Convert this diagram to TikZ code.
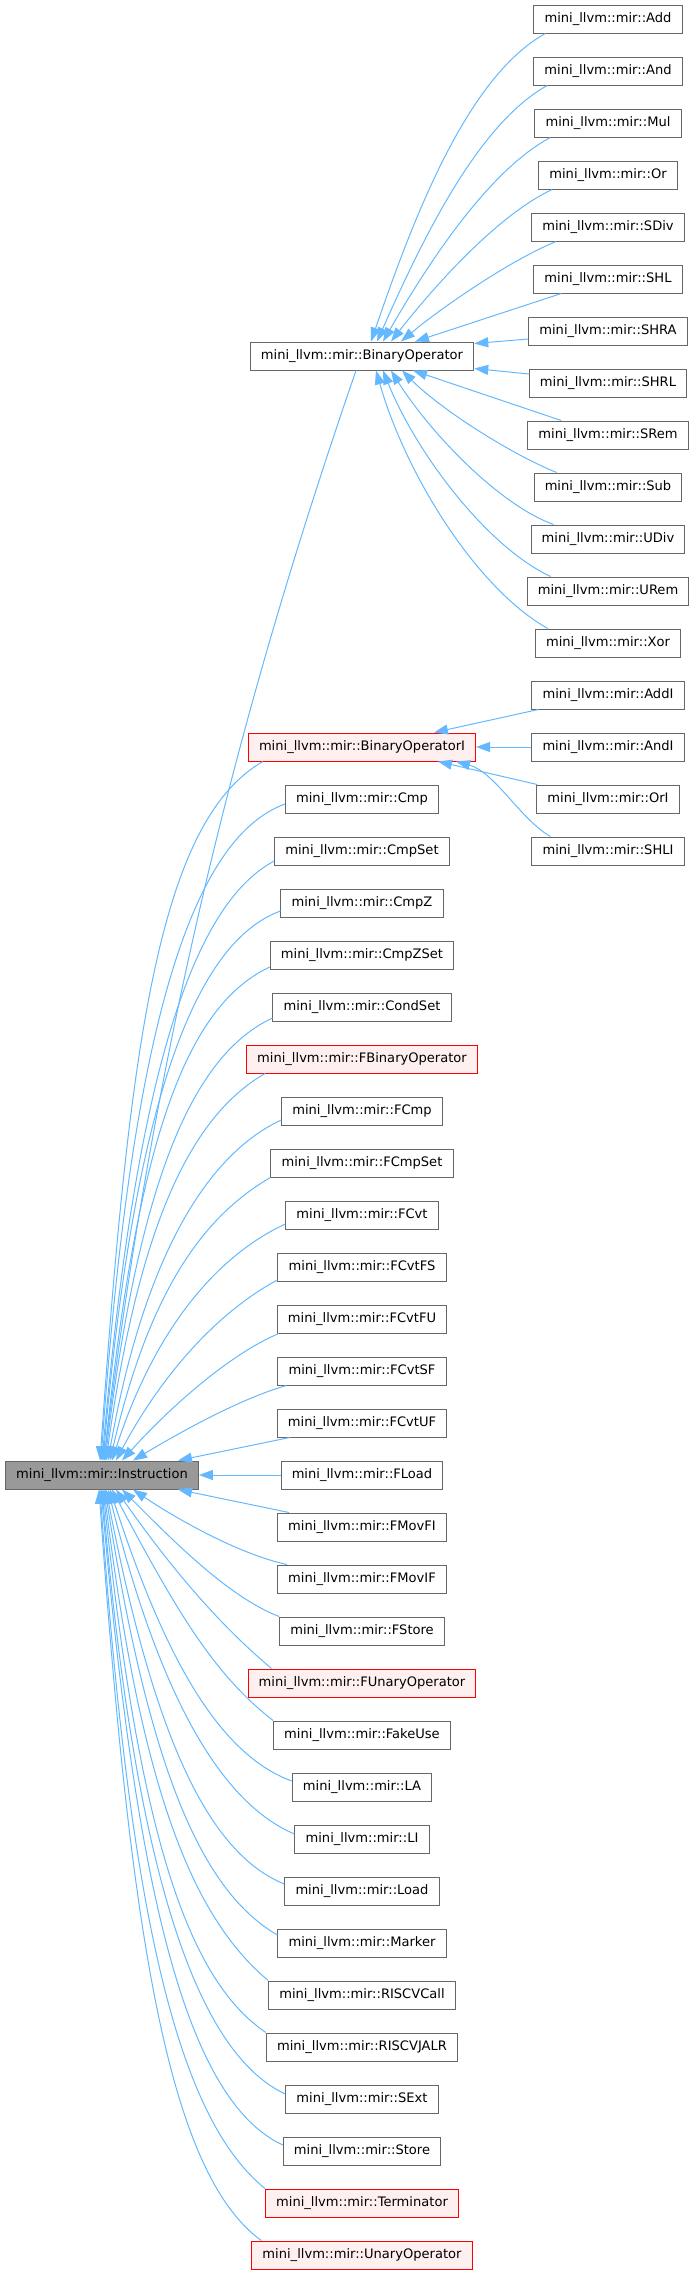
\documentclass[tikz,border=0pt]{standalone}
\usepackage{fontspec}
\setmainfont{DejaVu Sans}
\usetikzlibrary{arrows.meta,calc}
\definecolor{edgeblue}{HTML}{63B8FF}
\definecolor{boxborder}{HTML}{666666}
\definecolor{instfill}{HTML}{999999}
\definecolor{redfill}{HTML}{FFF0F0}
\definecolor{redborder}{HTML}{FF0000}
\begin{document}
\begin{tikzpicture}[x=0.75pt,y=-0.75pt,
  box/.style={draw=boxborder,fill=white,line width=0.75pt,minimum height=21pt,
    inner xsep=8pt,inner ysep=0pt,text height=7.3pt,text depth=2.3pt,
    font=\fontsize{9.8}{12}\selectfont,text=black},
  redbox/.style={box,draw=redborder,fill=redfill},
  instbox/.style={box,fill=instfill},
  edge/.style={draw=edgeblue,line width=0.75pt,{Triangle[length=10.5pt,width=7.5pt]}-}]
\useasboundingbox (0,0) rectangle (696,2274);
% root
\node[instbox] (I) at (102,1475) {mini\_llvm::mir::Instruction};
% middle column
\node[box] (BO) at (362,356) {mini\_llvm::mir::BinaryOperator};
\node[redbox] (BOI) at (362,747) {mini\_llvm::mir::BinaryOperatorI};
\node[box] (Cmp) at (362,799) {mini\_llvm::mir::Cmp};
\node[box] (CmpSet) at (362,851) {mini\_llvm::mir::CmpSet};
\node[box] (CmpZ) at (362,903) {mini\_llvm::mir::CmpZ};
\node[box] (CmpZSet) at (362,955) {mini\_llvm::mir::CmpZSet};
\node[box] (CondSet) at (362,1007) {mini\_llvm::mir::CondSet};
\node[redbox] (FBO) at (362,1059) {mini\_llvm::mir::FBinaryOperator};
\node[box] (FCmp) at (362,1111) {mini\_llvm::mir::FCmp};
\node[box] (FCmpSet) at (362,1163) {mini\_llvm::mir::FCmpSet};
\node[box] (FCvt) at (362,1215) {mini\_llvm::mir::FCvt};
\node[box] (FCvtFS) at (362,1267) {mini\_llvm::mir::FCvtFS};
\node[box] (FCvtFU) at (362,1319) {mini\_llvm::mir::FCvtFU};
\node[box] (FCvtSF) at (362,1371) {mini\_llvm::mir::FCvtSF};
\node[box] (FCvtUF) at (362,1423) {mini\_llvm::mir::FCvtUF};
\node[box] (FLoad) at (362,1475) {mini\_llvm::mir::FLoad};
\node[box] (FMovFI) at (362,1527) {mini\_llvm::mir::FMovFI};
\node[box] (FMovIF) at (362,1579) {mini\_llvm::mir::FMovIF};
\node[box] (FStore) at (362,1631) {mini\_llvm::mir::FStore};
\node[redbox] (FUO) at (362,1683) {mini\_llvm::mir::FUnaryOperator};
\node[box] (FakeUse) at (362,1735) {mini\_llvm::mir::FakeUse};
\node[box] (LA) at (362,1787) {mini\_llvm::mir::LA};
\node[box] (LI) at (362,1839) {mini\_llvm::mir::LI};
\node[box] (Load) at (362,1891) {mini\_llvm::mir::Load};
\node[box] (Marker) at (362,1943) {mini\_llvm::mir::Marker};
\node[box] (RCall) at (362,1995) {mini\_llvm::mir::RISCVCall};
\node[box] (RJalr) at (362,2047) {mini\_llvm::mir::RISCVJALR};
\node[box] (SExt) at (362,2099) {mini\_llvm::mir::SExt};
\node[box] (Store) at (362,2151) {mini\_llvm::mir::Store};
\node[redbox] (Term) at (362,2203) {mini\_llvm::mir::Terminator};
\node[redbox] (UO) at (362,2255) {mini\_llvm::mir::UnaryOperator};
% right column
\node[box] (Add) at (608,19) {mini\_llvm::mir::Add};
\node[box] (And) at (608,71) {mini\_llvm::mir::And};
\node[box] (Mul) at (608,123) {mini\_llvm::mir::Mul};
\node[box] (Or) at (608,175) {mini\_llvm::mir::Or};
\node[box] (SDiv) at (608,227) {mini\_llvm::mir::SDiv};
\node[box] (SHL) at (608,279) {mini\_llvm::mir::SHL};
\node[box] (SHRA) at (608,331) {mini\_llvm::mir::SHRA};
\node[box] (SHRL) at (608,383) {mini\_llvm::mir::SHRL};
\node[box] (SRem) at (608,435) {mini\_llvm::mir::SRem};
\node[box] (Sub) at (608,487) {mini\_llvm::mir::Sub};
\node[box] (UDiv) at (608,539) {mini\_llvm::mir::UDiv};
\node[box] (URem) at (608,591) {mini\_llvm::mir::URem};
\node[box] (Xor) at (608,643) {mini\_llvm::mir::Xor};
\node[box] (AddI) at (608,695) {mini\_llvm::mir::AddI};
\node[box] (AndI) at (608,747) {mini\_llvm::mir::AndI};
\node[box] (OrI) at (608,799) {mini\_llvm::mir::OrI};
\node[box] (SHLI) at (608,851) {mini\_llvm::mir::SHLI};
% edges to BinaryOperator
\draw[edge] ($(BO.north)+(9,0)$) to[out=71,in=209,out distance=97.5pt,in distance=67.5pt] ($(Add.south west)+(12,0)$);
\draw[edge] ($(BO.north)+(15,0)$) to[out=66,in=209,out distance=82.5pt,in distance=60pt] ($(And.south west)+(14,0)$);
\draw[edge] ($(BO.north)+(21,0)$) to[out=60,in=208,out distance=67.5pt,in distance=52.5pt] ($(Mul.south west)+(16,0)$);
\draw[edge] ($(BO.north)+(29,0)$) to[out=52,in=205,out distance=52.5pt,in distance=45pt] ($(Or.south west)+(14,0)$);
\draw[edge] ($(BO.north)+(39,0)$) to[out=40,in=202,out distance=37.5pt,in distance=37.5pt] ($(SDiv.south west)+(25,0)$);
\draw[edge] ($(BO.north)+(53,0)$) -- ($(SHL.south west)+(28,0)$);
\draw[edge] ($(BO.north east)+(0,2)$) -- ($(SHRA.west)+(0,8)$);
\draw[edge] ($(BO.south east)+(0,-2)$) -- ($(SHRL.west)+(0,-9)$);
\draw[edge] ($(BO.south)+(51,0)$) -- ($(SRem.north west)+(34,0)$);
\draw[edge] ($(BO.south)+(40,0)$) to[out=-45,in=158,out distance=41pt,in distance=37.5pt] ($(Sub.north west)+(23,0)$);
\draw[edge] ($(BO.south)+(29,0)$) to[out=-58,in=160,out distance=52.5pt,in distance=45pt] ($(UDiv.north west)+(23,0)$);
\draw[edge] ($(BO.south)+(21,0)$) to[out=-68,in=155,out distance=67.5pt,in distance=52.5pt] ($(URem.north west)+(24,0)$);
\draw[edge] ($(BO.south)+(14,0)$) to[out=-74,in=151,out distance=82.5pt,in distance=60pt] ($(Xor.north west)+(13,0)$);
% edges to BinaryOperatorI
\draw[edge] ($(BOI.north)+(72,0)$) -- ($(AddI.south west)+(7,0)$);
\draw[edge] (BOI.east) -- (AndI.west);
\draw[edge] ($(BOI.south)+(76,0)$) -- ($(OrI.north west)+(1,0)$);
\draw[edge] ($(BOI.south)+(94,0)$) to[out=-15,in=150,out distance=30pt,in distance=26pt] ($(SHLI.north west)+(19,0)$);
% edges to Instruction (upper)
\draw[edge] ($(I.north)+(2,0)$) to[out=83,in=251,out distance=360pt,in distance=217.5pt] ($(BO.south)+(-6,0)$);
\draw[edge] ($(I.north)+(-2,0)$) to[out=86,in=210,out distance=315pt,in distance=90pt] ($(BOI.south west)+(15,0)$);
\draw[edge] ($(I.north)+(-1,0)$) to[out=86,in=200,out distance=295pt,in distance=82.5pt] ($(Cmp.west)+(0,5)$);
\draw[edge] ($(I.north)+(0,0)$) to[out=85,in=208,out distance=270pt,in distance=75pt] ($(CmpSet.west)+(0,10)$);
\draw[edge] ($(I.north)+(1,0)$) to[out=85,in=200,out distance=247.5pt,in distance=75pt] ($(CmpZ.west)+(0,8)$);
\draw[edge] ($(I.north)+(2,0)$) to[out=84,in=205,out distance=225pt,in distance=75pt] ($(CmpZSet.west)+(0,12)$);
\draw[edge] ($(I.north)+(3,0)$) to[out=83,in=205,out distance=199pt,in distance=71pt] ($(CondSet.west)+(0,11)$);
\draw[edge] ($(I.north)+(4,0)$) to[out=82,in=210,out distance=172.5pt,in distance=67.5pt] ($(FBO.south west)+(19,0)$);
\draw[edge] ($(I.north)+(6,0)$) to[out=80,in=205,out distance=150pt,in distance=64pt] ($(FCmp.west)+(0,9)$);
\draw[edge] ($(I.north)+(8,0)$) to[out=77,in=210,out distance=127.5pt,in distance=60pt] (FCmpSet.south west);
\draw[edge] ($(I.north)+(10,0)$) to[out=72,in=205,out distance=105pt,in distance=56pt] ($(FCvt.west)+(0,9)$);
\draw[edge] ($(I.north)+(14,0)$) to[out=62,in=208,out distance=75pt,in distance=49pt] ($(FCvtFS.west)+(0,13)$);
\draw[edge] ($(I.north)+(20,0)$) to[out=48,in=203,out distance=52.5pt,in distance=41pt] ($(FCvtFU.south west)+(2,0)$);
\draw[edge] ($(I.north)+(31,0)$) to[out=31,in=196,out distance=37.5pt,in distance=37.5pt] ($(FCvtSF.south west)+(9,0)$);
\draw[edge] ($(I.north)+(76,0)$) -- ($(FCvtUF.south west)+(13,0)$);
\draw[edge] (I.east) -- (FLoad.west);
% edges to Instruction (lower)
\draw[edge] ($(I.south)+(76,0)$) -- ($(FMovFI.north west)+(12,0)$);
\draw[edge] ($(I.south)+(31,0)$) to[out=-34,in=168,out distance=37.5pt,in distance=37.5pt] ($(FMovIF.north west)+(10,0)$);
\draw[edge] ($(I.south)+(20,0)$) to[out=-45,in=159,out distance=52.5pt,in distance=41pt] (FStore.north west);
\draw[edge] ($(I.south)+(14,0)$) to[out=-55,in=140,out distance=75pt,in distance=49pt] ($(FUO.north west)+(24,0)$);
\draw[edge] ($(I.south)+(10,0)$) to[out=-62,in=142,out distance=105pt,in distance=56pt] (FakeUse.north west);
\draw[edge] ($(I.south)+(8,0)$) to[out=-72,in=160,out distance=127.5pt,in distance=60pt] ($(LA.west)+(0,-6)$);
\draw[edge] ($(I.south)+(6,0)$) to[out=-76,in=157,out distance=150pt,in distance=64pt] ($(LI.west)+(0,-5)$);
\draw[edge] ($(I.south)+(4,0)$) to[out=-79,in=158,out distance=172.5pt,in distance=67.5pt] ($(Load.west)+(0,-7)$);
\draw[edge] ($(I.south)+(3,0)$) to[out=-81,in=150,out distance=199pt,in distance=71pt] ($(Marker.west)+(0,-8)$);
\draw[edge] ($(I.south)+(2,0)$) to[out=-83,in=140,out distance=225pt,in distance=75pt] (RCall.north west);
\draw[edge] ($(I.south)+(1,0)$) to[out=-84,in=146,out distance=247.5pt,in distance=75pt] (RJalr.north west);
\draw[edge] ($(I.south)+(0,0)$) to[out=-85,in=155,out distance=270pt,in distance=79pt] ($(SExt.west)+(0,-5)$);
\draw[edge] ($(I.south)+(-1,0)$) to[out=-85,in=155,out distance=292.5pt,in distance=82.5pt] ($(Store.west)+(0,-6)$);
\draw[edge] ($(I.south)+(-2,0)$) to[out=-86,in=141,out distance=315pt,in distance=86pt] (Term.north west);
\draw[edge] ($(I.south)+(-3,0)$) to[out=-86,in=144,out distance=337.5pt,in distance=86pt] ($(UO.north west)+(10,0)$);
\end{tikzpicture}
\end{document}
